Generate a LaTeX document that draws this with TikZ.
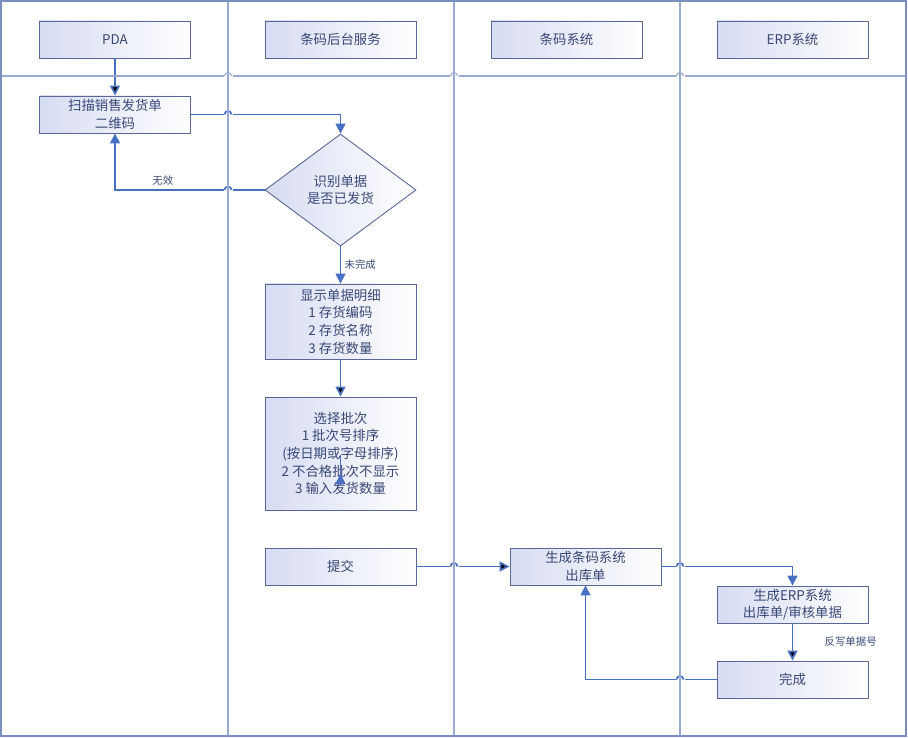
\documentclass[tikz,border=0pt]{standalone}
\usepackage{fontspec}
\setmainfont{Noto Sans CJK SC}
\usetikzlibrary{arrows.meta, shapes.geometric}

\definecolor{flowblue}{RGB}{72,112,194}
\definecolor{laneline}{RGB}{152,170,212}
\definecolor{frameline}{RGB}{122,142,192}
\definecolor{boxline}{RGB}{90,104,152}
\definecolor{boxfill}{RGB}{214,220,242}
\definecolor{txt}{RGB}{58,72,120}

% small hump where a line crosses a lane line
\newcommand\linejump[3]{%
  \fill[white] (#1-4.5,#2-1.4) rectangle (#1+4.5,#2+1.4);
  \draw[#3] (#1-3.5,#2) arc[start angle=180,end angle=0,radius=3.5];}

\begin{document}
\begin{tikzpicture}[x=1pt,y=1pt,>={Triangle[length=10pt,width=10pt]},
  flow/.style={draw=flowblue,line width=1.7pt},
  lane/.style={draw=laneline,line width=1.1pt},
  box/.style={draw=boxline,line width=0.9pt,left color=boxfill,right color=white,text=txt,
    minimum width=151pt,minimum height=37pt,align=center,inner sep=2pt,
    font=\fontsize{13.4}{17.7}\selectfont},
  test/.style={box,diamond,minimum width=151pt,minimum height=112pt,inner sep=0pt},
  note/.style={text=txt,font=\fontsize{10.4}{11}\selectfont}]
  \useasboundingbox (0,0) rectangle (908,-738);

  % lane heads
  \node[box] (hPDA) at (115,-39.5) {PDA};
  \node[box] (hBack) at (340.5,-39.5) {条码后台服务};
  \node[box] (hCode) at (566.5,-39.5) {条码系统};
  \node[box] (hERP) at (792.5,-39.5) {ERP系统};

  % steps
  \node[box] (scan) at (115,-114.5) {扫描销售发货单\\二维码};
  \node[test] (check) at (340.5,-190) {识别单据\\是否已发货};
  \node[box,minimum height=75pt] (detail) at (340.5,-321.5)
    {显示单据明细\\1 存货编码\\2 存货名称\\3 存货数量};
  \node[box,minimum height=113pt] (batch) at (340.5,-453.5)
    {选择批次\\1 批次号排序\\(按日期或字母排序)\\2 不合格批次不显示\\3 输入发货数量};
  \node[box] (submit) at (340.5,-566.5) {提交};
  \node[box] (outbill) at (585.5,-566.5) {生成条码系统\\出库单};
  \node[box] (erpbill) at (792.5,-604.5) {生成ERP系统\\出库单/审核单据};
  \node[box] (done) at (792.5,-679.5) {完成};

  \coordinate (b1) at (340.5,-455);
  \coordinate (b2) at (340.5,-484);

  % connectors
  \path[flow,->] (hPDA) edge (scan)
    (detail) edge (batch)
    (submit) edge (outbill)
    (erpbill) edge node[note,right,xshift=28pt] {反写单据号} (done);
  \draw[flow,->] (scan.east) -| (check.north);
  \draw[flow,->] (check.west) -| node[note,pos=0.34,above] {无效} (scan.south);
  \draw[flow,->] (check.south) -- node[note,right] {未完成} (detail.north);
  \draw[flow,->] (outbill.east) -| (erpbill.north);
  \draw[flow,->] (done.west) -| (outbill.south);
  \draw[flow] (b1) -- (b2);
  \draw[flow,->] (b2) -- ++(0,10);

  % lanes
  \draw[lane] (1,-76) -- (906,-76);
  \foreach \x in {228,454,680} \linejump{\x}{-76}{lane};
  \linejump{228}{-114.5}{flow}
  \linejump{228}{-190}{flow}
  \linejump{454}{-566.5}{flow}
  \linejump{680}{-566.5}{flow}
  \linejump{680}{-679.5}{flow}
  \foreach \x in {228,454,680} \draw[lane] (\x,-1) -- (\x,-736);
  \draw[frameline,line width=1.3pt] (1,-1) rectangle (906,-736);
\end{tikzpicture}
\end{document}
